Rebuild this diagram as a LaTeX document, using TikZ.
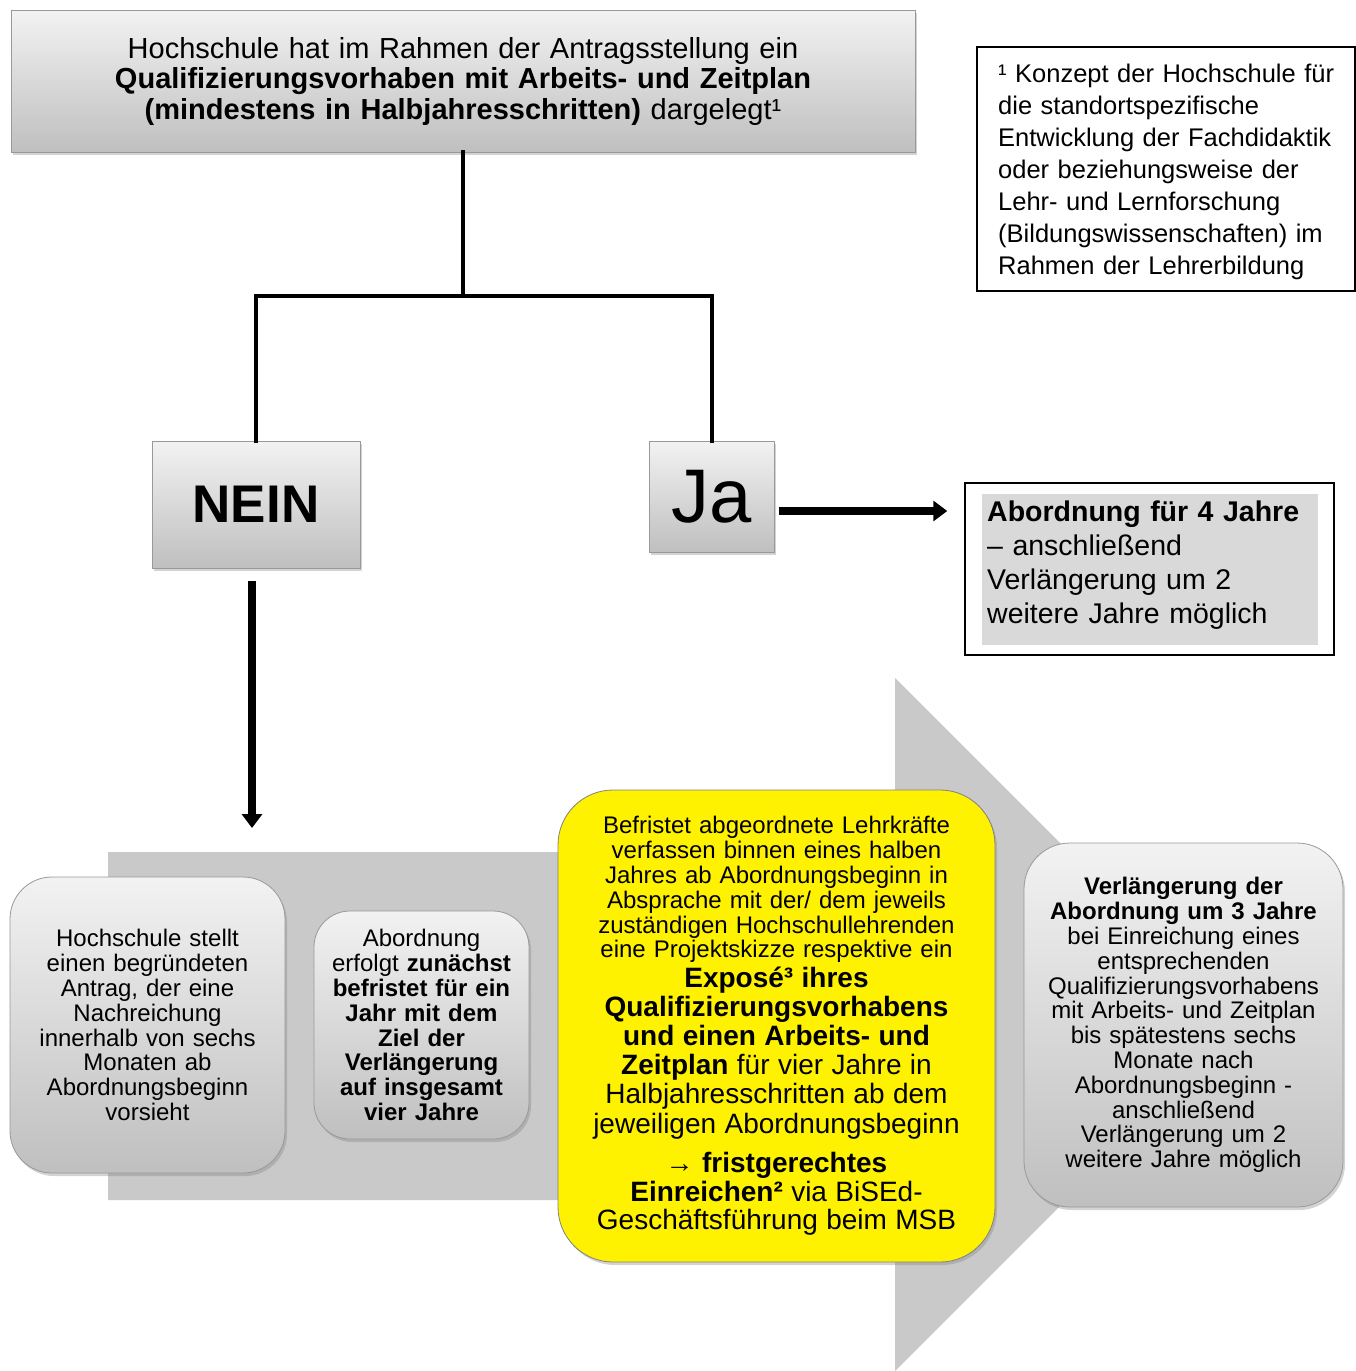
\documentclass[tikz,border=0pt]{standalone}
\usepackage{fontspec}
\setmainfont{Liberation Sans}
\usepackage{tikz}
\usetikzlibrary{arrows.meta,shadows,positioning}
\setlength{\parindent}{0pt}

\begin{document}
\begin{tikzpicture}[x=1pt,y=-1pt,
  grayshade/.style={draw=black!40,line width=0.8pt,top color=black!5,bottom color=black!25,
    drop shadow={shadow xshift=2pt,shadow yshift=-3pt,opacity=0.35}},
  roundbox/.style={grayshade,rounded corners=42pt,align=center,inner sep=0pt,
    font=\fontsize{24}{24.9}\selectfont},
  tree/.style={line width=4pt,line cap=rect},
  thickarrow/.style={line width=7.5pt,-{Triangle[length=14pt,width=20pt]}}
]
\useasboundingbox (0,0) rectangle (1356,1371);

\fill[black!21] (108,852) -- (895,852) -- (895,678) -- (1241.5,1024.5) -- (895,1371)
  -- (895,1200) -- (108,1200) -- cycle;

\node[grayshade,minimum width=904pt,minimum height=142pt,text width=880pt,align=center,
  inner sep=0pt,font=\fontsize{29}{30.5}\selectfont] (antrag) at (463,81)
  {Hochschule hat im Rahmen der Antragsstellung ein\\
   \textbf{Qualifizierungsvorhaben mit Arbeits- und Zeitplan}\\
   \textbf{(mindestens in Halbjahresschritten)} dargelegt¹};

\node[draw,line width=1.5pt,minimum width=378pt,minimum height=244pt] (fussnote) at (1166,169) {};
\node[anchor=north west,text width=345pt,align=left,inner sep=0pt,
  font=\fontsize{25.5}{32}\selectfont] (fusstext) at (998,64)
  {¹ Konzept der Hochschule für\\
   die standortspezifische\\
   Entwicklung der Fachdidaktik\\
   oder beziehungsweise der\\
   Lehr- und Lernforschung\\
   (Bildungswissenschaften) im\\
   Rahmen der Lehrerbildung};

\node[grayshade,minimum width=208pt,minimum height=127pt,
  font=\fontsize{53}{60}\selectfont\bfseries] (nein) at (256,504.5) {NEIN};
\node[grayshade,minimum width=125pt,minimum height=111pt,
  font=\fontsize{76}{80}\selectfont] (ja) at (711.5,496.5) {Ja};

\coordinate (fork) at (463,296);
\draw[tree] (antrag.south) -- (fork);
\draw[tree] (nein.north) |- (fork) -| (ja.north);

\node[draw,line width=1.5pt,minimum width=369pt,minimum height=172pt] (abo) at (1149.5,569) {};
\node[fill=black!15,minimum width=336pt,minimum height=151pt] (abobg) at (1150,569.5) {};
\node[anchor=north west,text width=330pt,align=left,inner sep=0pt,
  font=\fontsize{28.5}{34}\selectfont] (abotext) at (987,501)
  {\textbf{Abordnung für 4 Jahre}\\
   – anschließend\\
   Verlängerung um 2\\
   weitere Jahre möglich};

\coordinate (jaout) at ([xshift=5pt,yshift=-14.5pt]ja.east);
\draw[thickarrow,line width=8pt,shorten >=17pt] (jaout) -- (jaout -| abo.west);

\coordinate (neinend) at (252,828);
\draw[thickarrow] ([xshift=-4pt,yshift=-13pt]nein.south) -- (neinend);

\node[roundbox,minimum width=275pt,minimum height=296pt,text width=255pt] (nachreichung) at (147.5,1025)
  {Hochschule stellt\\
   einen begründeten\\
   Antrag, der eine\\
   Nachreichung\\
   innerhalb von sechs\\
   Monaten ab\\
   Abordnungsbeginn\\
   vorsieht};

\node[roundbox,rounded corners=36pt,minimum width=215pt,minimum height=228pt,text width=205pt] (befristet) at (421.5,1025)
  {Abordnung\\
   erfolgt \textbf{zunächst}\\
   \textbf{befristet für ein}\\
   \textbf{Jahr mit dem}\\
   \textbf{Ziel der}\\
   \textbf{Verlängerung}\\
   \textbf{auf insgesamt}\\
   \textbf{vier Jahre}};

\node[draw=black!50,line width=0.8pt,fill=yellow,rounded corners=55pt,minimum width=437pt,
  minimum height=472pt,text width=432pt,align=center,inner sep=0pt,
  font=\fontsize{24}{24.8}\selectfont,
  drop shadow={shadow xshift=2pt,shadow yshift=-3pt,opacity=0.35}] (expose) at (776.5,1026)
  {{Befristet abgeordnete Lehrkräfte\\
   verfassen binnen eines halben\\
   Jahres ab Abordnungsbeginn in\\
   Absprache mit der/ dem jeweils\\
   zuständigen Hochschullehrenden\\
   eine Projektskizze respektive ein\par}
   {\fontsize{28}{29.2}\selectfont\spaceskip=.3em \textbf{Exposé³ ihres}\\
   \textbf{Qualifizierungsvorhabens}\\
   \textbf{und einen Arbeits- und}\\
   \textbf{Zeitplan} für vier Jahre in\\
   Halbjahresschritten ab dem\\
   jeweiligen Abordnungsbeginn\par}
   \vspace{11pt}
   {\fontsize{28}{28.5}\selectfont\spaceskip=.3em → \textbf{fristgerechtes}\\
   \textbf{Einreichen²} via BiSEd-\\
   Geschäftsführung beim MSB\par}};

\node[roundbox,rounded corners=46pt,minimum width=319pt,minimum height=364pt,text width=305pt,
  font=\fontsize{24}{24.8}\selectfont] (verlaengerung) at (1183.5,1025)
  {\textbf{Verlängerung der}\\
   \textbf{Abordnung um 3 Jahre}\\
   bei Einreichung eines\\
   entsprechenden\\
   Qualifizierungsvorhabens\\
   mit Arbeits- und Zeitplan\\
   bis spätestens sechs\\
   Monate nach\\
   Abordnungsbeginn -\\
   anschließend\\
   Verlängerung um 2\\
   weitere Jahre möglich};

\end{tikzpicture}
\end{document}
